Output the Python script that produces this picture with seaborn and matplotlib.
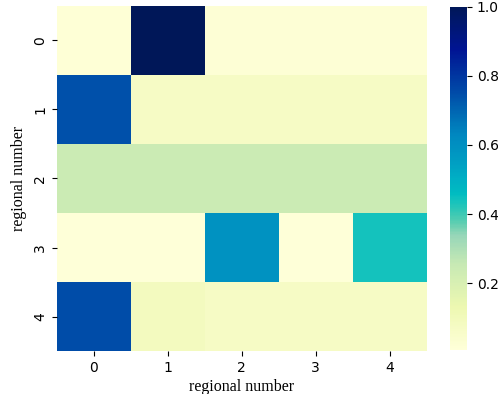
import numpy as np
import pandas as pd
import seaborn as sns
import matplotlib
matplotlib.use("Agg")
import matplotlib.pyplot as plt
from matplotlib.colors import ListedColormap, rgb_to_hsv, hsv_to_rgb

regions = ["0", "1", "2", "3", "4"]
row0 = [0.015, 1.0, 0.02, 0.02, 0.02]
row1 = [0.74, 0.07, 0.07, 0.07, 0.07]
row2 = [0.24, 0.24, 0.24, 0.24, 0.24]
row3 = [0.01, 0.01, 0.59, 0.01, 0.44]
row4 = [0.75, 0.09, 0.07, 0.07, 0.07]

df = pd.DataFrame([row0, row1, row2, row3, row4], index=regions, columns=regions)

# the reference looks like a punchier YlGnBu, so boost saturation in the mid/dark part
base = plt.get_cmap("YlGnBu")(np.linspace(0, 1, 256))[:, :3]
hsv = rgb_to_hsv(base)
s = hsv[:, 1]
hsv[:, 1] = s + (1 - s) * np.clip((s - 0.3) / 0.25, 0, 1)
cmap = ListedColormap(hsv_to_rgb(hsv))

fig = plt.figure(figsize=(4.98, 3.94), dpi=100)
ax = fig.add_axes([0.114, 0.109, 0.743, 0.876])
cax = fig.add_axes([0.904, 0.111, 0.034, 0.872])

sns.heatmap(df, cmap=cmap, vmin=0.006, vmax=1.0, ax=ax, cbar_ax=cax,
            cbar_kws={"ticks": [0.2, 0.4, 0.6, 0.8, 1.0]})
cax.tick_params(labelsize=10)
ax.collections[0].colorbar.outline.set_visible(False)

ax.set_xlabel("regional number", family="Liberation Serif", fontsize=11.5, labelpad=3)
ax.set_ylabel("regional number", family="Liberation Serif", fontsize=11.5)
ax.tick_params(labelsize=10)
plt.setp(ax.get_yticklabels(), rotation=90, va="center")
plt.setp(ax.get_xticklabels(), rotation=0)

fig.savefig("out.png", dpi=100)
